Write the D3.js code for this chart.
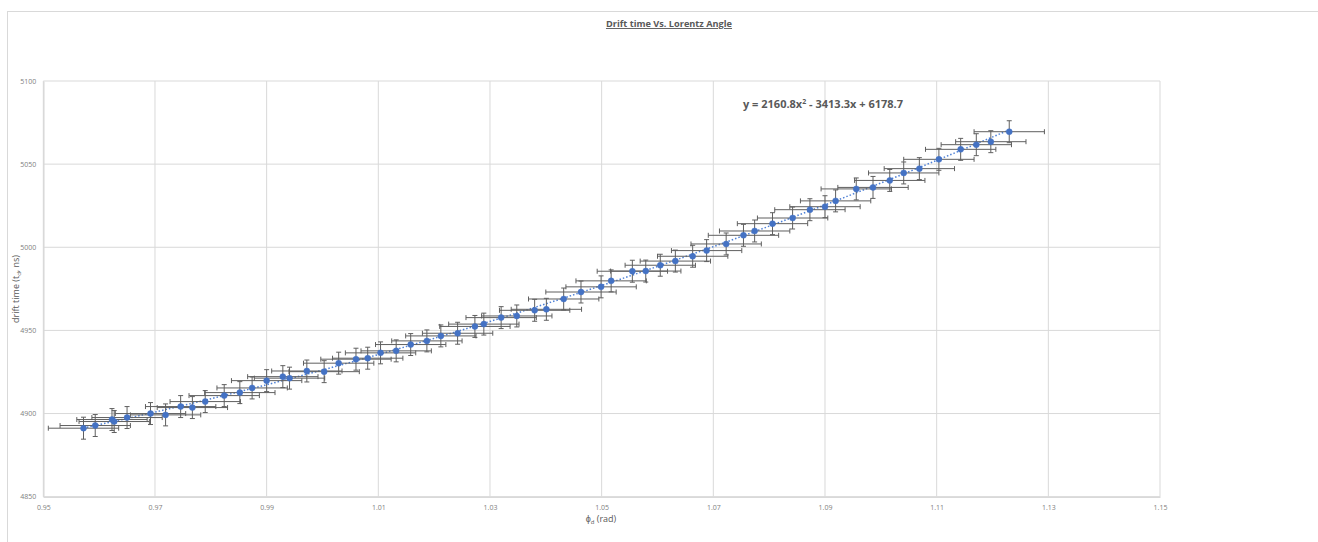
<!DOCTYPE html>
<html><head><meta charset="utf-8">
<script src="https://cdn.jsdelivr.net/npm/d3@7"></script>
<style>
body{margin:0;background:#fff;}
svg{display:block;font-family:"Open Sans","Liberation Sans",sans-serif;}
</style></head>
<body><svg id="c" width="1318" height="542"></svg>
<script>
const phi = [0.9572,0.9593,0.9623,0.9627,0.9650,0.9692,0.9719,0.9746,0.9767,0.9790,
0.9824,0.9852,0.9874,0.9900,0.9929,0.9941,0.9972,1.0003,1.0029,1.0060,
1.0081,1.0104,1.0132,1.0158,1.0187,1.0212,1.0242,1.0273,1.0289,1.0320,
1.0348,1.0380,1.0401,1.0432,1.0463,1.0499,1.0517,1.0555,1.0579,1.0605,
1.0632,1.0663,1.0688,1.0723,1.0754,1.0774,1.0806,1.0842,1.0873,1.0900,
1.0919,1.0956,1.0986,1.1016,1.1041,1.1069,1.1104,1.1143,1.1171,1.1197,1.1230];
const drift = [4891.2,4892.8,4896.4,4895.2,4897.6,4900.0,4899.2,4904.2,4903.6,4907.2,
4910.8,4912.6,4915.4,4919.8,4922.2,4921.3,4925.6,4925.2,4930.3,4932.7,
4933.3,4936.5,4937.7,4941.5,4943.7,4946.7,4948.3,4952.4,4953.8,4957.7,
4958.7,4962.1,4962.7,4968.9,4973.1,4976.2,4979.8,4985.6,4985.7,4989.2,
4991.7,4994.6,4998.0,5002.0,5007.2,5009.8,5014.2,5017.6,5022.6,5024.4,
5027.9,5035.1,5036.0,5040.2,5044.7,5047.3,5052.9,5058.9,5061.7,5063.5,5069.5];
const phiErr = 0.0063;
const driftErr = 6.6;
const fitCoef = [2160.8, -3413.3, 6178.7];
const xTicks = [0.95,0.97,0.99,1.01,1.03,1.05,1.07,1.09,1.11,1.13,1.15];
const yTicks = [4850,4900,4950,5000,5050,5100];

const svg = d3.select("#c");
const L=43.3, R=1160, T=81, B=496.7;
const x = d3.scaleLinear().domain([0.95,1.15]).range([L,R]);
const y = d3.scaleLinear().domain([4850,5100]).range([B,T]);

svg.append("rect").attr("x",7.5).attr("y",11.5).attr("width",1400).attr("height",600)
  .attr("fill","none").attr("stroke","#d9d9d9");

// grid
svg.append("g").selectAll("line").data(xTicks).join("line")
  .attr("x1",d=>x(d)).attr("x2",d=>x(d)).attr("y1",T).attr("y2",B)
  .attr("stroke","#d9d9d9").attr("stroke-width",1);
svg.append("g").selectAll("line").data(yTicks).join("line")
  .attr("x1",L).attr("x2",R).attr("y1",d=>y(d)).attr("y2",d=>y(d))
  .attr("stroke","#d9d9d9").attr("stroke-width",1);

// axes
const xa = svg.append("g").attr("transform",`translate(0,${B})`)
  .call(d3.axisBottom(x).tickValues(xTicks).tickSize(0).tickPadding(8).tickFormat(d3.format(".2f")));
const ya = svg.append("g").attr("transform",`translate(${L},0)`)
  .call(d3.axisLeft(y).tickValues(yTicks).tickSize(0).tickPadding(7).tickFormat(d3.format("d")));
[xa,ya].forEach(a=>{
  a.select(".domain").attr("stroke","#d9d9d9").attr("stroke-width",1.5);
  a.selectAll("text").attr("fill","#808080").style("fill","#808080").style("font-size","7px").style("font-family","'Open Sans',sans-serif");
});

const pts = phi.map((p,i)=>({x:p,y:drift[i]}));

// trendline
const fx = d3.range(0,101).map(i=>phi[0]+(phi[phi.length-1]-phi[0])*i/100);
const line = d3.line().x(d=>x(d)).y(d=>y(fitCoef[0]*d*d+fitCoef[1]*d+fitCoef[2]));
svg.append("path").datum(fx).attr("d",line).attr("fill","none")
  .attr("stroke","#4f81d6").attr("stroke-width",1.5).attr("stroke-dasharray","1.5,2");

// error bars
const eb = svg.append("g").attr("stroke","#5f5f5f").attr("stroke-width",1).attr("fill","none");
const cap = 2.5;
pts.forEach(d=>{
  const cx=x(d.x), cy=y(d.y);
  const x0=x(d.x-phiErr), x1=x(d.x+phiErr);
  const y0=y(d.y-driftErr), y1=y(d.y+driftErr);
  eb.append("line").attr("x1",x0).attr("x2",x1).attr("y1",cy).attr("y2",cy);
  eb.append("line").attr("x1",x0).attr("x2",x0).attr("y1",cy-cap).attr("y2",cy+cap);
  eb.append("line").attr("x1",x1).attr("x2",x1).attr("y1",cy-cap).attr("y2",cy+cap);
  eb.append("line").attr("x1",cx).attr("x2",cx).attr("y1",y0).attr("y2",y1);
  eb.append("line").attr("x1",cx-cap).attr("x2",cx+cap).attr("y1",y0).attr("y2",y0);
  eb.append("line").attr("x1",cx-cap).attr("x2",cx+cap).attr("y1",y1).attr("y2",y1);
});

// markers
svg.append("g").selectAll("circle").data(pts).join("circle")
  .attr("cx",d=>x(d.x)).attr("cy",d=>y(d.y)).attr("r",3)
  .attr("fill","#4472c4").attr("stroke","#4472c4").attr("stroke-width",0.5);

// title
svg.append("text").attr("x",669).attr("y",27).attr("text-anchor","middle")
  .attr("fill","#595959").style("font-size","9.2px").style("font-weight","bold")
  .style("text-decoration","underline").style("font-family","'Open Sans',sans-serif")
  .text("Drift time Vs. Lorentz Angle");

// equation
const eq = svg.append("text").attr("x",743).attr("y",108).attr("fill","#595959")
  .style("font-size","11px").style("font-weight","bold").style("font-family","'Open Sans',sans-serif");
eq.append("tspan").text("y = 2160.8x");
eq.append("tspan").attr("dy",-4).style("font-size","7px").text("2");
eq.append("tspan").attr("dy",4).text(" - 3413.3x + 6178.7");

// axis titles
const xt = svg.append("text").attr("x",601).attr("y",522).attr("text-anchor","middle")
  .attr("fill","#595959").style("font-size","9px").style("font-family","'Open Sans',sans-serif");
xt.append("tspan").text("ϕ");
xt.append("tspan").attr("dy",2).style("font-size","6px").text("d");
xt.append("tspan").attr("dy",-2).text(" (rad)");

const yt = svg.append("text").attr("transform","translate(19,289) rotate(-90)").attr("text-anchor","middle")
  .attr("fill","#595959").style("font-size","9px").style("font-family","'Open Sans',sans-serif");
yt.append("tspan").text("drift time (t");
yt.append("tspan").attr("dy",2).style("font-size","6px").text("d");
yt.append("tspan").attr("dy",-2).text(", ns)");
</script></body></html>
